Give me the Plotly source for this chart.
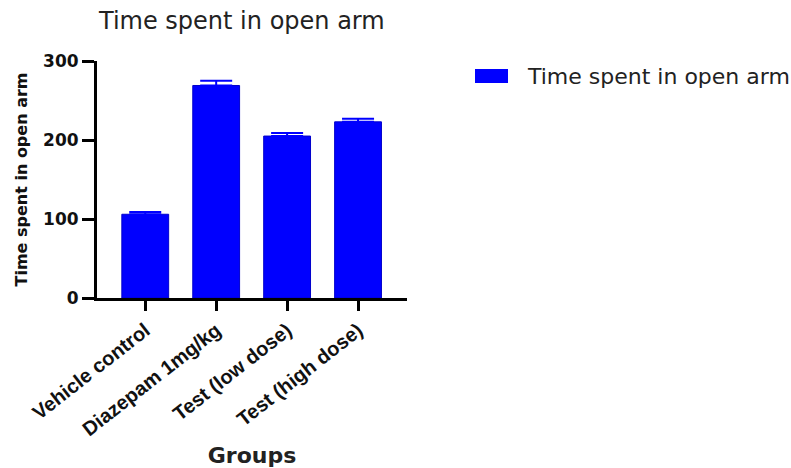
import plotly.graph_objects as go

groups = ["Vehicle control", "Diazepam 1mg/kg", "Test (low dose)", "Test (high dose)"]
mean_time = [106, 269, 205, 223]
sem_time = [3, 6, 4, 4]
series_name = "Time spent in open arm"
y_ticks = [0, 100, 200, 300]

BLUE = "#0000FF"
FONT = "DejaVu Sans, Liberation Sans, Arial, sans-serif"
LABEL_FONT = "Liberation Sans, Arial, sans-serif"

fig = go.Figure()
fig.add_trace(go.Bar(
    x=list(range(len(groups))),
    y=mean_time,
    name=series_name,
    width=0.66,
    marker=dict(color=BLUE, line=dict(color="#0000CC", width=1)),
    error_y=dict(type="data", array=sem_time, arrayminus=[0] * len(sem_time),
                 symmetric=False, color=BLUE, thickness=2, width=16),
    showlegend=False,
))

fig.update_layout(
    width=791, height=468,
    margin=dict(l=97, r=384, t=61, b=170, autoexpand=False),
    paper_bgcolor="white", plot_bgcolor="white",
    font=dict(family=FONT, color="black"),
    title=dict(text=series_name, font=dict(size=24, family=FONT, color="#222222"),
               x=99 / 791, xanchor="left", y=1 - 21 / 468, yanchor="middle",
               automargin=False),
)

fig.update_xaxes(
    automargin=False,
    range=[-0.68, 3.69],
    tickmode="array",
    tickvals=list(range(len(groups))),
    ticktext=groups,
    tickangle=-38,
    tickfont=dict(size=20, family=LABEL_FONT, weight="bold", color="#111111"),
    ticks="outside", ticklen=10, tickwidth=3, tickcolor="black",
    showline=True, linewidth=3, linecolor="black",
    showgrid=False, zeroline=False,
    title=dict(text="Groups", font=dict(size=22, family=FONT, weight="bold", color="#222222"),
               standoff=14),
)
fig.update_yaxes(
    automargin=False,
    range=[0, 300],
    tickmode="array",
    tickvals=y_ticks,
    tickfont=dict(size=17, family=FONT, weight="bold", color="#111111"),
    ticks="outside", ticklen=12, tickwidth=3, tickcolor="black",
    showline=True, linewidth=3, linecolor="black",
    showgrid=False, zeroline=False,
    title=dict(text=series_name, font=dict(size=16, family=FONT, weight="bold", color="#111111"),
               standoff=12),
)

# legend: swatch plus label on the right
fig.add_shape(type="rect", xref="paper", yref="paper",
              x0=(475 - 97) / 310, x1=(508 - 97) / 310,
              y0=(298 - 83) / 237, y1=(298 - 69) / 237,
              fillcolor=BLUE, line=dict(color=BLUE, width=0))
fig.add_annotation(xref="paper", yref="paper",
                   x=(525 - 97) / 310, y=(298 - 77) / 237,
                   xanchor="left", yanchor="middle", showarrow=False,
                   text=series_name, font=dict(size=22, family=FONT, color="#222222"))

fig.write_html("out.html")
